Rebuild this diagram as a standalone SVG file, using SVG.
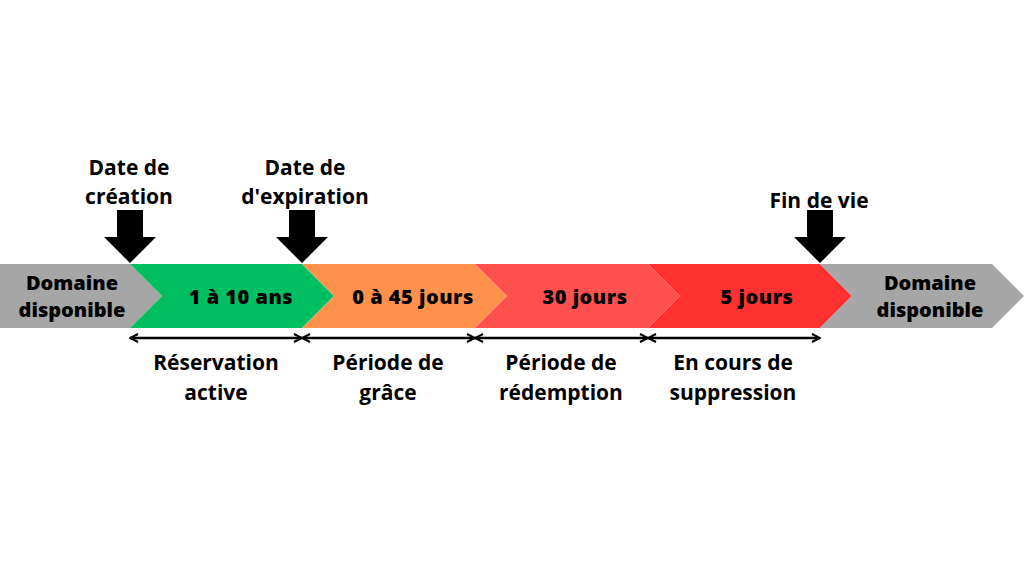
<svg xmlns="http://www.w3.org/2000/svg" width="1024" height="576" viewBox="0 0 1024 576">
<defs>
<style>
.t{font-family:"Open Sans","Liberation Sans",sans-serif;font-weight:700;fill:#000;text-anchor:middle}
.top{font-size:21px}
.seg{font-size:20px;font-weight:800;letter-spacing:0.5px}
.dom{letter-spacing:0}
.bot{font-size:21px}
.conn{stroke:#000;stroke-width:2.5;fill:none}
.pin{fill:#000}
</style>
<marker id="ah" viewBox="0 0 10 10" refX="9" refY="5" markerWidth="10" markerHeight="10" markerUnits="userSpaceOnUse" orient="auto-start-reverse">
<path d="M1,1 L9,5 L1,9" fill="none" stroke="#000" stroke-width="2"/>
</marker>
</defs>
<rect width="1024" height="576" fill="#fff"/>
<g id="seg-gray-left">
<polygon points="0,264 130,264 162,296 130,328 0,328" fill="#a6a6a6"/>
<text class="t seg dom" x="72" y="290">Domaine</text>
<text class="t seg dom" x="72" y="317">disponible</text>
</g>
<g id="seg-green">
<polygon points="130,264 302,264 334,296 302,328 130,328 162,296" fill="#00bf63"/>
<text class="t seg" x="241" y="304">1 à 10 ans</text>
</g>
<g id="seg-orange">
<polygon points="302,264 475,264 507,296 475,328 302,328 334,296" fill="#ff914d"/>
<text class="t seg" x="413" y="304">0 à 45 jours</text>
</g>
<g id="seg-red1">
<polygon points="475,264 648,264 680,296 648,328 475,328 507,296" fill="#ff5050"/>
<text class="t seg" x="585" y="304">30 jours</text>
</g>
<g id="seg-red2">
<polygon points="648,264 820,264 852,296 820,328 648,328 680,296" fill="#ff3131"/>
<text class="t seg" x="757" y="304">5 jours</text>
</g>
<g id="seg-gray-right">
<polygon points="820,264 992,264 1024,296 992,328 820,328 852,296" fill="#a6a6a6"/>
<text class="t seg dom" x="930" y="290">Domaine</text>
<text class="t seg dom" x="930" y="317">disponible</text>
</g>
<g id="pin-creation">
<polygon class="pin" points="117,210 143,210 143,237 156,237 130,263 104,237 117,237"/>
<text class="t top" x="129" y="175">Date de</text>
<text class="t top" x="129" y="204">création</text>
</g>
<g id="pin-expiration">
<polygon class="pin" points="289,210 315,210 315,237 328,237 302,263 276,237 289,237"/>
<text class="t top" x="305" y="175">Date de</text>
<text class="t top" x="305" y="204">d'expiration</text>
</g>
<g id="pin-fin">
<polygon class="pin" points="807,210 833,210 833,237 846,237 820,263 794,237 807,237"/>
<text class="t top" x="819" y="208">Fin de vie</text>
</g>
<g id="connectors">
<line class="conn" x1="130" y1="338" x2="302" y2="338" marker-start="url(#ah)" marker-end="url(#ah)"/>
<line class="conn" x1="302" y1="338" x2="475" y2="338" marker-start="url(#ah)" marker-end="url(#ah)"/>
<line class="conn" x1="475" y1="338" x2="648" y2="338" marker-start="url(#ah)" marker-end="url(#ah)"/>
<line class="conn" x1="648" y1="338" x2="820" y2="338" marker-start="url(#ah)" marker-end="url(#ah)"/>
</g>
<g id="label-reservation">
<text class="t bot" x="216" y="370">Réservation</text>
<text class="t bot" x="216" y="400">active</text>
</g>
<g id="label-grace">
<text class="t bot" x="388" y="370">Période de</text>
<text class="t bot" x="388" y="400">grâce</text>
</g>
<g id="label-redemption">
<text class="t bot" x="561" y="370">Période de</text>
<text class="t bot" x="561" y="400">rédemption</text>
</g>
<g id="label-suppression">
<text class="t bot" x="733" y="370">En cours de</text>
<text class="t bot" x="733" y="400">suppression</text>
</g>
</svg>
